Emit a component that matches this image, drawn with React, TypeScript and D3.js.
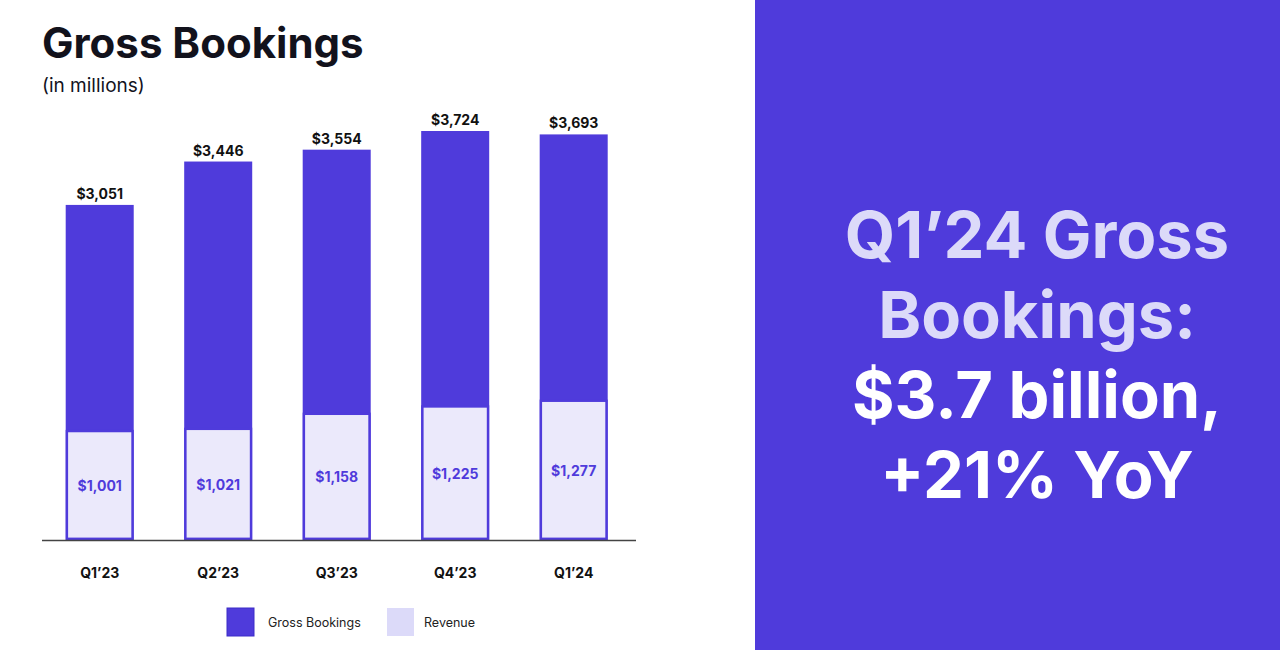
import React from "react";
import * as d3 from "d3";

const quarters = ["Q1’23", "Q2’23", "Q3’23", "Q4’23", "Q1’24"];
const grossBookings = [3051, 3446, 3554, 3724, 3693];
const revenue = [1001, 1021, 1158, 1225, 1277];
const legendItems = ["Gross Bookings", "Revenue"];
const headlineLines = ["Q1’24 Gross", "Bookings:", "$3.7 billion,", "+21% YoY"];

const PURPLE = "#4f3bdb";
const LAVENDER = "#dcdaf9";
const REV_FILL = "#ebe9fb";
const FONT = "Inter, 'DejaVu Sans', sans-serif";

const fmt = (v: number) => "$" + d3.format(",")(v);

export default function App() {
  const W = 1280;
  const H = 650;
  const baseY = 540;
  const x = d3
    .scaleBand<string>()
    .domain(quarters)
    .range([42, 631.4])
    .paddingInner(0.426)
    .paddingOuter(0.2);
  const y = d3.scaleLinear().domain([0, 3724]).range([baseY, 131]);
  const bw = x.bandwidth();

  return (
    <svg
      width={W}
      height={H}
      style={{ position: "absolute", left: 0, top: 0, display: "block" }}
      fontFamily={FONT}
    >
      <rect x={0} y={0} width={W} height={H} fill="#ffffff" />
      <text x={42} y={58} fontSize={42} fontWeight={700} fill="#12121c">
        Gross Bookings
      </text>
      <text x={42} y={92} fontSize={19} fill="#12121c">
        (in millions)
      </text>

      {quarters.map((q, i) => {
        const bx = x(q)!;
        const gTop = y(grossBookings[i]);
        const rTop = y(revenue[i]);
        return (
          <g key={q}>
            <rect x={bx} y={gTop} width={bw} height={baseY - gTop} fill={PURPLE} />
            <rect
              x={bx + 1.2}
              y={rTop + 1}
              width={bw - 2.4}
              height={baseY - rTop - 2.2}
              fill={REV_FILL}
              stroke={PURPLE}
              strokeWidth={2.4}
            />
            <text
              x={bx + bw / 2}
              y={gTop - 6}
              textAnchor="middle"
              fontSize={14}
              fontWeight={700}
              fill="#111"
            >
              {fmt(grossBookings[i])}
            </text>
            <text
              x={bx + bw / 2}
              y={(rTop + baseY) / 2 + 1}
              dy="0.35em"
              textAnchor="middle"
              fontSize={14}
              fontWeight={700}
              fill={PURPLE}
            >
              {fmt(revenue[i])}
            </text>
            <text
              x={bx + bw / 2}
              y={578}
              textAnchor="middle"
              fontSize={14}
              fontWeight={700}
              fill="#111"
            >
              {q}
            </text>
          </g>
        );
      })}
      <line x1={42} x2={636} y1={baseY + 0.5} y2={baseY + 0.5} stroke="#444" strokeWidth={1.5} />

      {legendItems.map((name, i) => {
        const lx = i === 0 ? 227 : 387;
        const tx = i === 0 ? 268 : 424;
        return (
          <g key={name}>
            <rect
              x={lx}
              y={608}
              width={27}
              height={28}
              fill={i === 0 ? PURPLE : LAVENDER}
              stroke={i === 0 ? "#3d2cc8" : "none"}
              strokeWidth={1}
            />
            <text x={tx} y={627} fontSize={12.5} fill="#222">
              {name}
            </text>
          </g>
        );
      })}

      <rect x={755} y={0} width={W - 755} height={H} fill={PURPLE} />
      {headlineLines.map((line, i) => (
        <text
          key={i}
          x={1037}
          y={258 + i * 80}
          textAnchor="middle"
          fontSize={65}
          fontWeight={700}
          fill={i < 2 ? LAVENDER : "#ffffff"}
        >
          {line}
        </text>
      ))}
    </svg>
  );
}
